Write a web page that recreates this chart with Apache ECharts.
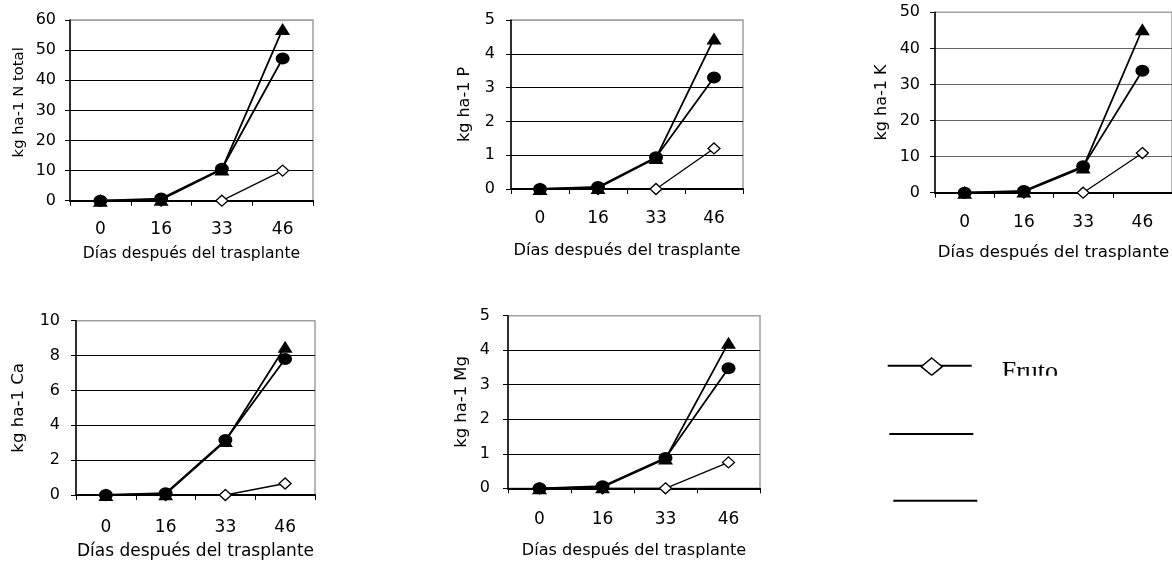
<!DOCTYPE html>
<html>
<head>
<meta charset="utf-8">
<script src="https://cdn.jsdelivr.net/npm/echarts@6/dist/echarts.min.js"></script>
<style>
html,body{margin:0;padding:0;background:#fff;}
#c{width:1172px;height:561px;}
</style>
</head>
<body>
<div id="c"></div>
<script>
// ---- data ----
const categories = ['0', '16', '33', '46'];
const xTitle = 'Días después del trasplante';
const yTitles = ['kg ha-1 N total', 'kg ha-1 P', 'kg ha-1 K', 'kg ha-1 Ca', 'kg ha-1 Mg'];
const yMax = [60, 5, 50, 10, 5];
const yStep = [10, 1, 10, 2, 1];

const frutoN  = [0, 0, 0, 10];
const frutoP  = [0, 0, 0, 1.2];
const frutoK  = [0, 0, 0, 11];
const frutoCa = [0, 0, 0, 0.66];
const frutoMg = [0, 0, 0, 0.75];

const circN  = [0, 0.7, 10.6, 47.2];
const circP  = [0, 0.06, 0.94, 3.3];
const circK  = [0, 0.5, 7.3, 33.8];
const circCa = [0, 0.1, 3.15, 7.8];
const circMg = [0, 0.06, 0.88, 3.48];

const triN  = [0, 0.3, 10.4, 57];
const triP  = [0, 0.03, 0.92, 4.45];
const triK  = [0, 0.3, 7.0, 45.3];
const triCa = [0, 0.05, 3.1, 8.5];
const triMg = [0, 0.03, 0.86, 4.22];

const frutoSets = [frutoN, frutoP, frutoK, frutoCa, frutoMg];
const circSets  = [circN, circP, circK, circCa, circMg];
const triSets   = [triN, triP, triK, triCa, triMg];

// ---- layout (pixels) ----
const FONT = 'DejaVu Sans';
const panels = [
  {left: 70,  top: 20,    width: 243, height: 180.7, yGap: 43, xGap: 45, xFs: 15.6, yFs: 14.8, xMargin: 20.5, yMargin: 14, grid: '#000', yPad: [0, 0, 0, 16]},
  {left: 511, top: 20,    width: 232, height: 169,   yGap: 38, xGap: 54, xFs: 16.3, yFs: 16,   xMargin: 21,   yMargin: 16, grid: '#000', yPad: 0},
  {left: 935, top: 12.3,  width: 237, height: 180.4, yGap: 45, xGap: 51, xFs: 16.6, yFs: 16,   xMargin: 21.5, yMargin: 15, grid: '#666', yPad: 0},
  {left: 76,  top: 320.7, width: 239, height: 176,   yGap: 49, xGap: 48, xFs: 17,   yFs: 16.6, xMargin: 24,   yMargin: 16, grid: '#000', yPad: 0},
  {left: 508, top: 315.7, width: 252, height: 172.6, yGap: 38, xGap: 55, xFs: 16.1, yFs: 16.4, xMargin: 23,   yMargin: 18, grid: '#000', yPad: 0}
];

const ellipsePath = 'path://M0,1 A1,1 0 1,1 2,1 A1,1 0 1,1 0,1 Z';

const grids = [], xAxes = [], yAxes = [], series = [];
panels.forEach((p, i) => {
  grids.push({
    left: p.left, top: p.top, width: p.width, height: p.height,
    show: true, borderColor: '#a0a0a0', borderWidth: 1.5, backgroundColor: 'transparent'
  });
  xAxes.push({
    gridIndex: i, type: 'category', data: categories, boundaryGap: true,
    name: xTitle, nameLocation: 'middle', nameGap: p.xGap,
    nameTextStyle: {fontFamily: FONT, fontSize: p.xFs, color: '#000'},
    axisLine: {show: true, onZero: true, lineStyle: {color: '#000', width: 2}},
    axisTick: {show: true, length: 5, alignWithLabel: false, interval: 0, lineStyle: {color: '#000', width: 1}},
    axisLabel: {fontFamily: FONT, fontSize: 17, color: '#000', margin: p.xMargin, interval: 0},
    splitLine: {show: false}
  });
  const nLines = Math.round(yMax[i] / yStep[i]) + 1;
  const cols = [];
  for (let k = 0; k < nLines - 1; k++) cols.push(p.grid);
  cols.push('#a0a0a0');
  yAxes.push({
    gridIndex: i, type: 'value', min: 0, max: yMax[i], interval: yStep[i],
    name: yTitles[i], nameLocation: 'middle', nameGap: p.yGap,
    nameTextStyle: {fontFamily: FONT, fontSize: p.yFs, color: '#000', padding: p.yPad},
    axisLine: {show: true, lineStyle: {color: '#000', width: 1.5}},
    axisTick: {show: true, length: 5, lineStyle: {color: '#000', width: 1}},
    axisLabel: {fontFamily: FONT, fontSize: 16, color: '#000', margin: p.yMargin},
    splitLine: {show: true, lineStyle: {color: cols, width: 1}}
  });
  series.push({
    name: 'Fruto', type: 'line', xAxisIndex: i, yAxisIndex: i, data: frutoSets[i],
    symbol: 'diamond', symbolSize: [12, 11], showAllSymbol: true,
    lineStyle: {color: '#000', width: 1.3},
    itemStyle: {color: '#fff', borderColor: '#000', borderWidth: 1.3},
    z: 2
  });
  series.push({
    name: 'Serie triángulo', type: 'line', xAxisIndex: i, yAxisIndex: i, data: triSets[i],
    symbol: 'triangle', symbolSize: [15, 12], showAllSymbol: true,
    lineStyle: {color: '#000', width: 1.8},
    itemStyle: {color: '#000', borderWidth: 0},
    z: 3
  });
  series.push({
    name: 'Serie círculo', type: 'line', xAxisIndex: i, yAxisIndex: i, data: circSets[i],
    symbol: ellipsePath, symbolSize: [14, 12], showAllSymbol: true,
    lineStyle: {color: '#000', width: 1.8},
    itemStyle: {color: '#000', borderWidth: 0},
    z: 4
  });
});

// legend drawn as graphics (partly clipped, like the reference)
const graphic = [
  {type: 'line', shape: {x1: 887.7, y1: 365.7, x2: 971.7, y2: 365.7}, style: {stroke: '#000', lineWidth: 2}, z: 10},
  {type: 'polygon', shape: {points: [[931.7, 358], [942.2, 366.7], [931.7, 375.4], [921.2, 366.7]]}, style: {fill: '#fff', stroke: '#000', lineWidth: 1.5}, z: 11},
  {type: 'text', x: 1001.7, y: 372, style: {text: 'Fruto', font: '26px "Liberation Serif"', fill: '#000', textVerticalAlign: 'middle', textAlign: 'left'}, z: 11},
  {type: 'rect', shape: {x: 915, y: 375.7, width: 160, height: 14}, style: {fill: '#fff'}, z: 12},
  {type: 'line', shape: {x1: 889.3, y1: 434, x2: 973.3, y2: 434}, style: {stroke: '#000', lineWidth: 2}, z: 10},
  {type: 'line', shape: {x1: 893.3, y1: 500.7, x2: 977.3, y2: 500.7}, style: {stroke: '#000', lineWidth: 2}, z: 10}
];

const chart = echarts.init(document.getElementById('c'), null, {renderer: 'canvas'});
chart.setOption({
  animation: false,
  backgroundColor: '#fff',
  grid: grids,
  xAxis: xAxes,
  yAxis: yAxes,
  series: series,
  graphic: graphic
});
</script>
</body>
</html>
